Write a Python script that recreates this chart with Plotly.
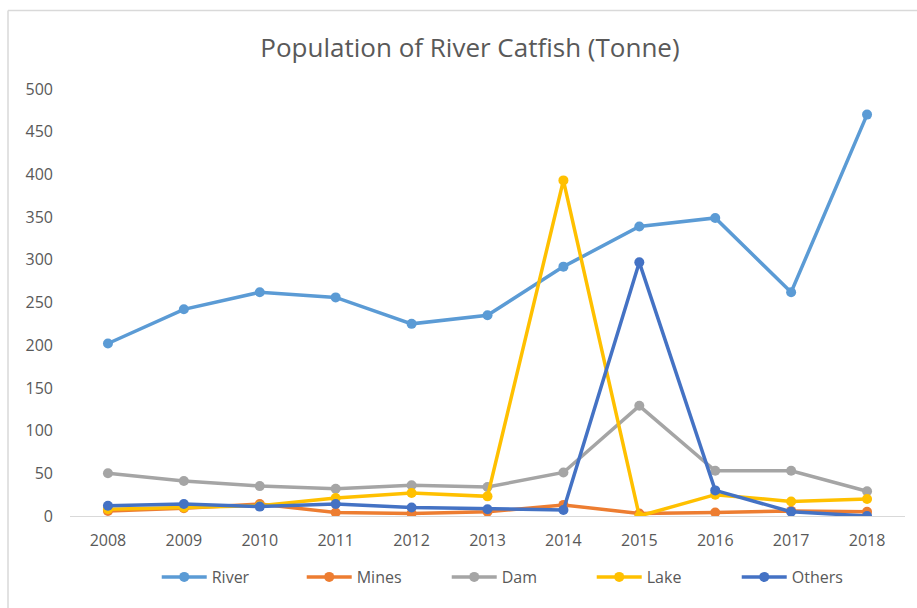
import plotly.graph_objects as go

years = ["2008", "2009", "2010", "2011", "2012", "2013", "2014", "2015", "2016", "2017", "2018"]
river = [202, 242, 262, 256, 225, 235, 292, 339, 349, 262, 470]
mines = [6, 9, 14, 4, 3, 5, 13, 3, 4, 6, 5]
dam = [50, 41, 35, 32, 36, 34, 51, 129, 53, 53, 29]
lake = [8, 10, 12, 21, 27, 23, 393, 0, 25, 17, 20]
others = [12, 14, 11, 14, 10, 8, 7, 297, 30, 5, 0]

series = [
    ("River", river, "#5B9BD5"),
    ("Mines", mines, "#ED7D31"),
    ("Dam", dam, "#A5A5A5"),
    ("Lake", lake, "#FFC000"),
    ("Others", others, "#4472C4"),
]

font_family = "Open Sans, sans-serif"
text_color = "#595959"

fig = go.Figure()
for name, values, color in series:
    fig.add_trace(go.Scatter(
        x=years, y=values, name=name, mode="lines+markers",
        line=dict(color=color, width=3.5),
        marker=dict(color=color, size=10),
    ))

W, H = 917, 608
left, right, top, bottom = 70, 12, 89, 92
plot_w = W - left - right
plot_h = H - top - bottom

# frame around the chart area (top and left edges visible)
frame_x = (8 - left) / plot_w
frame_y = (H - bottom - 10.5) / plot_h

fig.update_layout(
    width=W, height=H,
    margin=dict(l=left, r=right, t=top, b=bottom, autoexpand=False),
    paper_bgcolor="white", plot_bgcolor="white",
    font=dict(family=font_family, color=text_color, size=15),
    title=dict(
        text="Population of River Catfish (Tonne)",
        x=(470 - left) / plot_w, xref="paper", xanchor="center",
        y=1 - 48 / H, yanchor="middle",
        font=dict(size=26, color=text_color, family=font_family),
    ),
    xaxis=dict(
        type="category", range=[-0.5, 10.5],
        showgrid=False, showline=True, linecolor="#D9D9D9", linewidth=1,
        ticks="", tickfont=dict(size=16, color=text_color), ticklabelstandoff=10,
        zeroline=False, automargin=False,
    ),
    yaxis=dict(
        range=[0, 500], dtick=50, showgrid=False, zeroline=False,
        showline=False, ticks="", tickfont=dict(size=16, color=text_color),
        ticklabelstandoff=16, automargin=False,
    ),
    legend=dict(
        orientation="h", x=0.538, xanchor="center",
        y=-61 / plot_h, yanchor="middle",
        font=dict(size=16, color=text_color),
        entrywidth=85, entrywidthmode="pixels",
        itemwidth=45, tracegroupgap=0,
    ),
    showlegend=True,
    shapes=[
        dict(type="line", xref="paper", yref="paper",
             x0=frame_x, x1=(W + 5 - left) / plot_w,
             y0=frame_y, y1=frame_y,
             line=dict(color="#D9D9D9", width=1.5)),
        dict(type="line", xref="paper", yref="paper",
             x0=frame_x, x1=frame_x,
             y0=frame_y, y1=-(bottom + 5) / plot_h,
             line=dict(color="#D9D9D9", width=1.5)),
    ],
)

fig.write_html("out.html")
